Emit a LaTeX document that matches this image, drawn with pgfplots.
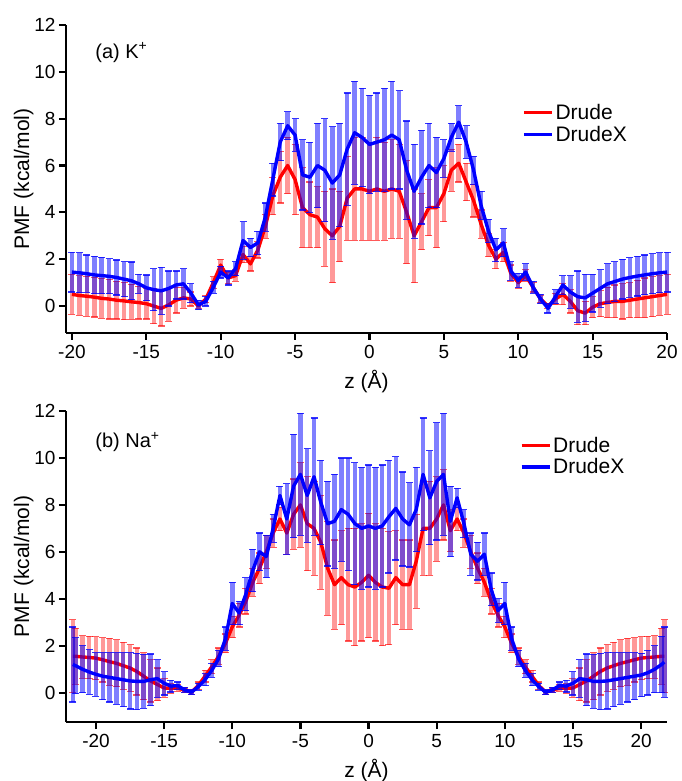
\documentclass[border=0pt]{standalone}
\usepackage{pgfplots}
\pgfplotsset{compat=1.18}
\usepackage{pgfplotstable}
\usepackage{fontspec}
\setmainfont{Liberation Sans}

\pgfplotstableread{
x y e
-20 0.50 0.85
-19.5 0.45 0.85
-19 0.42 0.85
-18.5 0.38 0.85
-18 0.33 0.85
-17.5 0.30 0.85
-17 0.25 0.80
-16.5 0.22 0.80
-16 0.18 0.75
-15.5 0.15 0.70
-15 0.10 0.65
-14.5 0.00 0.75
-14 -0.10 0.75
-13.5 0.05 0.70
-13 0.25 0.55
-12.5 0.35 0.45
-12 0.30 0.30
-11.5 0.00 0.10
-11 0.30 0.15
-10.5 1.00 0.25
-10 1.75 0.25
-9.5 1.20 0.25
-9 1.30 0.25
-8.5 2.20 0.35
-8 1.80 0.30
-7.5 2.40 0.35
-7 3.40 0.50
-6.5 4.70 0.80
-6 5.50 1.10
-5.5 6.00 1.20
-5 5.40 1.50
-4.5 4.20 1.70
-4 3.90 1.40
-3.5 3.80 1.30
-3 3.30 1.60
-2.5 3.00 2.00
-2 3.40 1.50
-1.5 4.60 1.80
-1 5.00 2.20
-0.5 5.00 2.20
0 4.90 2.10
0.5 5.00 2.20
1 4.90 2.10
1.5 5.00 2.10
2 4.90 2.00
2.5 4.00 2.20
3 3.00 2.00
3.5 3.60 1.20
4 4.20 1.20
4.5 4.20 1.70
5 4.80 1.20
5.5 5.80 0.90
6 6.10 0.80
6.5 5.30 0.80
7 4.50 0.70
7.5 3.50 0.60
8 2.60 0.50
8.5 2.00 0.40
9 2.30 0.40
9.5 1.40 0.35
10 1.00 0.25
10.5 1.30 0.25
11 0.80 0.20
11.5 0.30 0.15
12 0.00 0.10
12.5 0.30 0.25
13 0.50 0.45
13.5 0.20 0.50
14 -0.20 0.60
14.5 -0.30 0.50
15 -0.05 0.45
15.5 0.10 0.55
16 0.15 0.65
16.5 0.20 0.70
17 0.20 0.75
17.5 0.25 0.75
18 0.30 0.80
18.5 0.35 0.85
19 0.40 0.85
19.5 0.45 0.85
20 0.50 0.85
}\drudeA

\pgfplotstableread{
x y e
-20 1.45 0.85
-19.5 1.42 0.85
-19 1.38 0.80
-18.5 1.33 0.80
-18 1.30 0.78
-17.5 1.27 0.75
-17 1.22 0.75
-16.5 1.15 0.75
-16 1.08 0.80
-15.5 0.95 0.40
-15 0.78 0.55
-14.5 0.70 0.90
-14 0.65 1.00
-13.5 0.75 0.75
-13 0.90 0.60
-12.5 0.95 0.65
-12 0.55 0.40
-11.5 0.05 0.20
-11 0.20 0.20
-10.5 0.80 0.25
-10 1.45 0.25
-9.5 1.20 0.30
-9 1.60 0.30
-8.5 2.80 0.80
-8 2.50 0.40
-7.5 2.70 0.50
-7 3.80 0.60
-6.5 5.40 0.70
-6 7.00 0.80
-5.5 7.70 0.60
-5 7.30 0.70
-4.5 5.60 1.50
-4 5.50 1.50
-3.5 6.00 1.80
-3 5.80 2.20
-2.5 5.25 2.40
-2 5.60 2.20
-1.5 6.70 2.40
-1 7.40 2.20
-0.5 7.20 2.10
0 6.90 2.10
0.5 7.00 2.10
1 7.10 2.20
1.5 7.30 2.30
2 7.10 2.10
2.5 5.80 2.10
3 4.90 2.00
3.5 5.50 2.00
4 6.00 1.80
4.5 5.70 1.50
5 6.30 0.80
5.5 7.20 0.60
6 7.85 0.70
6.5 7.00 0.70
7 5.80 0.60
7.5 4.30 0.60
8 3.20 0.50
8.5 2.40 0.50
9 2.70 0.60
9.5 1.50 0.40
10 1.10 0.30
10.5 1.45 0.35
11 0.80 0.25
11.5 0.30 0.20
12 -0.10 0.20
12.5 0.40 0.30
13 0.90 0.40
13.5 0.60 0.70
14 0.40 1.10
14.5 0.35 1.00
15 0.55 0.80
15.5 0.75 0.80
16 0.95 0.85
16.5 1.05 0.85
17 1.15 0.85
17.5 1.22 0.85
18 1.28 0.85
18.5 1.33 0.85
19 1.38 0.85
19.5 1.42 0.85
20 1.45 0.85
}\drudexA

\pgfplotstableread{
x y e
-21.7 1.55 1.55
-21.5 1.55 1.20
-21 1.52 0.90
-20.5 1.50 0.90
-20 1.47 0.92
-19.5 1.40 0.95
-19 1.32 1.00
-18.5 1.25 1.00
-18 1.15 1.00
-17.5 1.05 1.00
-17 0.90 1.00
-16.5 0.70 1.00
-16 0.50 0.90
-15.5 0.35 0.70
-15 0.20 0.40
-14.5 0.18 0.20
-14 0.20 0.15
-13.5 0.10 0.10
-13 0.02 0.10
-12.5 0.30 0.15
-12 0.70 0.25
-11.5 1.10 0.30
-11 1.55 0.35
-10.5 2.10 0.40
-10 2.80 0.45
-9.5 3.30 0.50
-9 3.90 0.55
-8.5 4.70 0.60
-8 5.30 0.65
-7.5 6.00 0.70
-7 6.80 0.60
-6.5 7.40 0.50
-6 6.80 0.90
-5.5 7.60 1.50
-5 8.00 1.80
-4.5 7.20 2.00
-4 7.00 2.00
-3.5 6.40 2.00
-3 5.30 2.00
-2.5 4.60 1.90
-2 4.90 2.00
-1.5 4.60 2.40
-1 4.50 2.50
-0.5 4.70 2.50
0 5.00 2.65
0.5 4.70 2.50
1 4.50 2.50
1.5 4.45 2.40
2 4.90 2.00
2.5 4.60 1.90
3 4.60 1.90
3.5 5.60 2.00
4 7.00 2.00
4.5 7.00 2.00
5 7.40 1.80
5.5 8.00 1.50
6 6.90 0.90
6.5 7.40 0.50
7 6.80 0.60
7.5 6.00 0.70
8 5.30 0.65
8.5 4.70 0.60
9 3.90 0.55
9.5 3.30 0.50
10 2.80 0.45
10.5 2.10 0.40
11 1.55 0.35
11.5 1.10 0.30
12 0.70 0.25
12.5 0.30 0.15
13 0.02 0.10
13.5 0.10 0.10
14 0.20 0.15
14.5 0.18 0.20
15 0.20 0.40
15.5 0.35 0.70
16 0.50 0.90
16.5 0.70 1.00
17 0.90 1.00
17.5 1.05 1.00
18 1.15 1.00
18.5 1.25 1.00
19 1.32 1.00
19.5 1.40 0.95
20 1.47 0.92
20.5 1.50 0.90
21 1.52 0.90
21.5 1.55 1.20
21.7 1.55 1.55
}\drudeB

\pgfplotstableread{
x y e
-21.7 1.20 1.60
-21.5 1.15 1.20
-21 1.00 1.00
-20.5 0.88 0.95
-20 0.78 0.93
-19.5 0.70 1.00
-19 0.65 1.05
-18.5 0.60 1.10
-18 0.55 1.15
-17.5 0.50 1.20
-17 0.48 1.20
-16.5 0.48 1.15
-16 0.55 1.10
-15.5 0.60 0.80
-15 0.40 0.50
-14.5 0.28 0.25
-14 0.30 0.15
-13.5 0.12 0.10
-13 0.02 0.10
-12.5 0.25 0.15
-12 0.55 0.25
-11.5 0.95 0.30
-11 1.45 0.35
-10.5 2.30 0.50
-10 3.80 0.90
-9.5 3.40 0.50
-9 4.20 0.70
-8.5 5.20 0.90
-8 6.00 0.80
-7.5 5.80 0.90
-7 7.00 0.60
-6.5 8.40 0.40
-6 7.40 1.50
-5.5 8.80 2.20
-5 9.30 2.60
-4.5 8.40 2.00
-4 9.20 2.50
-3.5 8.10 1.80
-3 7.20 1.80
-2.5 7.30 2.00
-2 7.80 2.20
-1.5 7.60 2.40
-1 7.20 2.60
-0.5 7.00 2.60
0 7.10 2.60
0.5 7.00 2.60
1 7.10 2.60
1.5 7.50 2.40
2 7.85 2.20
2.5 7.40 2.00
3 7.15 1.80
3.5 7.80 1.80
4 9.30 2.40
4.5 8.30 2.00
5 9.00 2.50
5.5 9.30 2.60
6 7.30 1.50
6.5 8.30 0.40
7 7.20 0.60
7.5 5.90 0.90
8 5.60 0.80
8.5 5.90 0.90
9 4.40 0.70
9.5 3.50 0.50
10 3.80 0.90
10.5 2.30 0.50
11 1.45 0.35
11.5 0.95 0.30
12 0.55 0.25
12.5 0.25 0.15
13 0.02 0.10
13.5 0.12 0.10
14 0.30 0.15
14.5 0.28 0.25
15 0.40 0.50
15.5 0.60 0.80
16 0.55 1.10
16.5 0.48 1.15
17 0.48 1.20
17.5 0.50 1.20
18 0.55 1.15
18.5 0.60 1.10
19 0.65 1.05
19.5 0.70 1.00
20 0.75 0.93
20.5 0.85 0.95
21 1.00 1.00
21.5 1.20 1.20
21.7 1.30 1.50
}\drudexB

\definecolor{dred}{RGB}{255,0,0}
\definecolor{dblue}{RGB}{0,0,255}

\pgfplotsset{
  pmf/.style={
    scale only axis,
    width=601pt,
    axis lines=left,
    axis line style={-, line width=2.6pt, black},
    tick align=outside,
    major tick length=7pt,
    tick style={line width=2.2pt, black},
    ytick={0,2,4,6,8,10,12},
    xtick={-20,-15,...,20},
    ymax=12,
    /pgf/number format/assume math mode=true,
    ticklabel style={font=\fontsize{19}{19}\selectfont},
    xticklabel style={yshift=-2pt},
    label style={font=\fontsize{21}{21}\selectfont},
    ylabel={PMF (kcal/mol)},
    xlabel={z (Å)},
    ylabel shift=-6pt,
    xlabel style={yshift=-4pt},
    legend style={draw=none, fill=none, inner sep=0pt,
      font=\fontsize{21}{21}\selectfont, anchor=north west,
      row sep=1pt},
    legend cell align=left,
    legend image code/.code={\draw[##1, line width=3.2pt] (0pt,0pt) -- (28pt,0pt);},
    clip=false,
  },
  ebred/.style={draw=none, forget plot,
    error bars/.cd, y dir=both, y explicit,
    error bar style={line width=4.5pt, draw=dred, draw opacity=0.4},
    error mark options={draw=dred, draw opacity=0.65, line width=1.2pt, mark size=3.5pt, rotate=90}},
  ebblue/.style={draw=none, forget plot,
    error bars/.cd, y dir=both, y explicit,
    error bar style={line width=4.5pt, draw=dblue, draw opacity=0.5},
    error mark options={draw=dblue, draw opacity=0.8, line width=1.2pt, mark size=3.5pt, rotate=90}},
  meanred/.style={dred, line width=3.4pt, line join=round, no marks},
  meanblue/.style={dblue, line width=3.4pt, line join=round, no marks},
}

\begin{document}
\begin{tikzpicture}
\useasboundingbox (0pt,0pt) rectangle (681pt,781pt);

\begin{axis}[pmf,
  at={(66pt,448pt)}, anchor=south west,
  height=308pt,
  xmin=-20.4, xmax=20,
  ymin=-1.15,
  legend style={at={(axis description cs:0.759,0.75)}},
]
\addplot[ebred] table[x=x, y=y, y error=e] {\drudeA};
\addplot[meanred] table[x=x, y=y] {\drudeA};
\addlegendentry{Drude}
\addplot[ebblue] table[x=x, y=y, y error=e] {\drudexA};
\addplot[meanblue] table[x=x, y=y] {\drudexA};
\addlegendentry{DrudeX}
\node[anchor=west, font=\fontsize{20}{20}\selectfont] at (axis description cs:0.043,0.91) {(a) K\textsuperscript{+}};
\end{axis}

\begin{axis}[pmf,
  at={(66pt,59pt)}, anchor=south west,
  height=311pt,
  xmin=-22.2, xmax=21.9,
  ymin=-1.25,
  legend style={at={(axis description cs:0.755,0.924)}},
]
\addplot[ebred] table[x=x, y=y, y error=e] {\drudeB};
\addplot[meanred] table[x=x, y=y] {\drudeB};
\addlegendentry{Drude}
\addplot[ebblue] table[x=x, y=y, y error=e] {\drudexB};
\addplot[meanblue] table[x=x, y=y] {\drudexB};
\addlegendentry{DrudeX}
\node[anchor=west, font=\fontsize{20}{20}\selectfont] at (axis description cs:0.043,0.90) {(b) Na\textsuperscript{+}};
\end{axis}
\end{tikzpicture}
\end{document}
